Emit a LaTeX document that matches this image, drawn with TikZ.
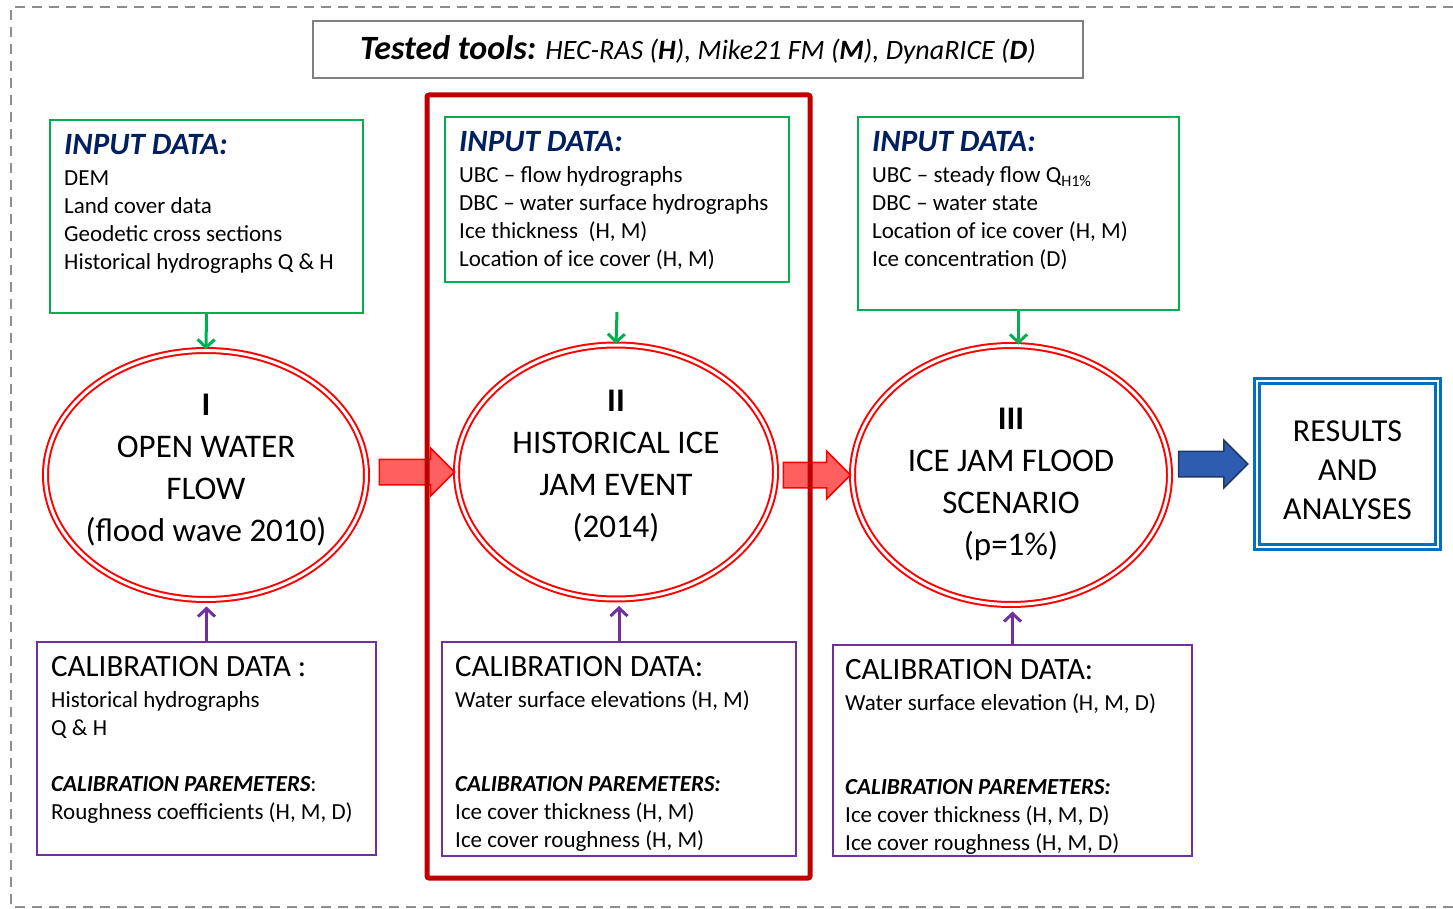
\documentclass[tikz,border=0pt]{standalone}
\usepackage{fontspec}
\setmainfont{Carlito}
\usepackage{tikz}
\usetikzlibrary{shapes}
\usetikzlibrary{arrows.meta}
\usetikzlibrary{positioning}

\definecolor{c_green}{HTML}{00B050}
\definecolor{c_navy}{HTML}{002060}
\definecolor{c_purple}{HTML}{7030A0}
\definecolor{c_darkred}{HTML}{C00000}
\definecolor{c_lightred}{HTML}{FF5F5F}
\definecolor{c_blue}{HTML}{0070C0}
\definecolor{c_arrowblue}{HTML}{2E5CB0}
\definecolor{c_navyline}{HTML}{1F3864}
\definecolor{c_gray}{HTML}{808080}

\newcommand{\inhead}[1]{{\fontsize{31}{28}\selectfont\bfseries\itshape\color{c_navy}#1}}
\newcommand{\calhead}[1]{{\fontsize{31}{28}\selectfont #1}}
\newcommand{\calpar}[1]{{\bfseries\itshape #1}}

\tikzset{
	box_frame/.style = {
		rectangle,
		line width=2pt,
		inner sep=0pt,
		anchor=north west
	},
	box_in/.style = {
		box_frame,
		draw=c_green
	},
	box_cal/.style = {
		box_frame,
		draw=c_purple
	},
	box_title/.style = {
		box_frame,
		draw=c_gray
	},
	box_txt/.style = {
		align=left,
		inner sep=0pt,
		font=\fontsize{23}{28}\selectfont
	},
	node_stage/.style = {
		ellipse,
		draw=red,
		double=white,
		line width=2pt,
		double distance=3pt,
		inner sep=0pt
	},
	stage_txt/.style = {
		align=center,
		inner sep=0pt,
		font=\fontsize{33}{42}\selectfont
	},
	node_res/.style = {
		rectangle,
		draw=c_blue,
		double=white,
		line width=2.5pt,
		double distance=2.5pt,
		inner sep=0pt,
		minimum width=181pt,
		minimum height=166pt
	},
	res_txt/.style = {
		align=center,
		inner sep=0pt,
		font=\fontsize{32}{39}\selectfont
	},
	arr_block/.style = {
		single arrow,
		line width=1.5pt,
		inner xsep=0pt,
		inner ysep=12pt,
		single arrow head extend=11pt,
		anchor=tip
	},
	arr_red/.style = {
		arr_block,
		draw=red,
		fill=c_lightred
	},
	arr_blue/.style = {
		arr_block,
		draw=c_navyline,
		fill=c_arrowblue
	},
	arr_in/.style = {
		->,
		draw=c_green,
		line width=3pt
	},
	arr_cal/.style = {
		->,
		draw=c_purple,
		line width=3pt,
		shorten >=6pt
	},
}

\begin{document}
\begin{tikzpicture}[x=1pt,y=-1pt,>={Straight Barb[length=8pt,width=17pt]}]
\useasboundingbox (0,0) rectangle (1453,909);
\draw[c_gray!90, line width=2pt, dash pattern=on 10pt off 7pt] (1453,7) -- (11,7) -- (11,907) -- (1453,907);

% tools
\node[box_title, minimum width=770pt, minimum height=57pt] (tools) at (312,20) {};
\node[inner sep=0pt] (tools_txt) at (tools.center) {{\fontsize{34}{34}\selectfont\bfseries\itshape Tested tools:}\hspace{9pt}{\fontsize{28}{28}\selectfont\itshape HEC-RAS (\textbf{H}), Mike21 FM (\textbf{M}), DynaRICE (\textbf{D})}};

% input data
\node[box_in, minimum width=313pt, minimum height=193pt] (in1) at (49,119) {};
\node[box_txt, below right=15pt and 15pt of in1.north west] (in1_txt) {\inhead{INPUT DATA:}\\[3pt]
DEM\\
Land cover data\\
Geodetic cross sections\\
Historical hydrographs Q \& H};

\node[box_in, minimum width=344pt, minimum height=165pt] (in2) at (444,116) {};
\node[box_txt, below right=15pt and 15pt of in2.north west] (in2_txt) {\inhead{INPUT DATA:}\\[3pt]
UBC -- flow hydrographs\\
DBC -- water surface hydrographs\\
Ice thickness\ \ (H, M)\\
Location of ice cover (H, M)};

\node[box_in, minimum width=321pt, minimum height=193pt] (in3) at (857,116) {};
\node[box_txt, below right=15pt and 15pt of in3.north west] (in3_txt) {\inhead{INPUT DATA:}\\[3pt]
UBC -- steady flow Q\textsubscript{H1\%}\\
DBC -- water state\\
Location of ice cover (H, M)\\
Ice concentration (D)};

% stages
\node[node_stage, minimum width=321pt, minimum height=249pt] (e1) at (206,475) {};
\node[stage_txt] (e1_txt) at ([yshift=5pt]e1.center) {{\bfseries I}\\OPEN WATER\\FLOW\\(flood wave 2010)};
\node[node_stage, minimum width=319pt, minimum height=254pt] (e2) at (616,472) {};
\node[stage_txt] (e2_txt) at ([yshift=6pt]e2.center) {{\bfseries II}\\HISTORICAL ICE\\JAM EVENT\\(2014)};
\node[node_stage, minimum width=317pt, minimum height=259pt] (e3) at (1011,475) {};
\node[stage_txt] (e3_txt) at ([yshift=-9pt]e3.center) {{\bfseries III}\\ICE JAM FLOOD\\SCENARIO\\(p=1\%)};
\node[node_res] (res) at (1347.5,464) {};
\node[res_txt] (res_txt) at ([yshift=-6pt]res.center) {RESULTS\\AND\\ANALYSES};

% calibration data
\node[box_cal, minimum width=339pt, minimum height=213pt] (cal1) at (36,641) {};
\node[box_txt, below right=15pt and 15pt of cal1.north west] (cal1_txt) {\calhead{CALIBRATION DATA :}\\[3pt]
Historical hydrographs\\
Q \& H\\[28pt]
\calpar{CALIBRATION PAREMETERS}:\\
Roughness coefficients (H, M, D)};

\node[box_cal, minimum width=354pt, minimum height=214pt] (cal2) at (441,641) {};
\node[box_txt, below right=15pt and 14pt of cal2.north west] (cal2_txt) {\calhead{CALIBRATION DATA:}\\[3pt]
Water surface elevations (H, M)\\[56pt]
\calpar{CALIBRATION PAREMETERS:}\\
Ice cover thickness (H, M)\\
Ice cover roughness (H, M)};

\node[box_cal, minimum width=359pt, minimum height=211pt] (cal3) at (832,644) {};
\node[box_txt, below right=15pt and 13pt of cal3.north west] (cal3_txt) {\calhead{CALIBRATION DATA:}\\[3pt]
Water surface elevation (H, M, D)\\[56pt]
\calpar{CALIBRATION PAREMETERS:}\\
Ice cover thickness (H, M, D)\\
Ice cover roughness (H, M, D)};

% connectors
\draw[arr_in] (in1.south) -- (e1.north);
\draw[arr_in] ([yshift=-29pt]in2.south) -- (e2.north);
\draw[arr_in] (in3.south) -- (in3.south |- e3.north);
\draw[arr_cal] (cal1.north) -- (cal1.north |- e1.south);
\draw[arr_cal] (cal2.north) -- (cal2.north |- e2.south);
\draw[arr_cal] (cal3.north) -- (cal3.north |- e3.south);

\node[arr_red, minimum height=75pt] (a12) at (e2.west) {};
\node[arr_red, minimum height=67pt] (a23) at (e3.west) {};
\node[arr_blue, minimum height=69pt] (a3r) at ([xshift=-7pt]res.west) {};

% historical event frame
\draw[c_darkred, line width=5pt, rounded corners=2pt] (427,95) rectangle (810,878);
\end{tikzpicture}
\end{document}
